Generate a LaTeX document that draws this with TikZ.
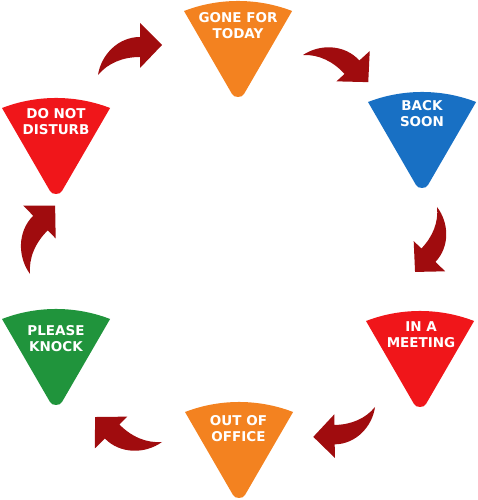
\documentclass[tikz,border=0pt]{standalone}
\usepackage{fontspec}
\setmainfont{DejaVu Sans}
\definecolor{signorange}{RGB}{243,130,32}
\definecolor{signred}{RGB}{240,22,26}
\definecolor{signblue}{RGB}{24,112,196}
\definecolor{signgreen}{RGB}{32,148,60}
\definecolor{arrowred}{RGB}{160,12,14}
\tikzset{
  signtext/.style={text=white, font=\bfseries\fontsize{13.5}{16}\selectfont, align=center, inner sep=0pt, anchor=north},
  curvedarrow/.pic={
    \fill[arrowred] (0,0) .. controls (3,20) and (20,38) .. (42,38) -- (42,52) -- (64,30) -- (42,7) -- (42,18)
      .. controls (25,18) and (10,12) .. (0,0) -- cycle;
  }
}
\newcommand\signshape[3]{%
  \fill[#3] ({#1-54},{#2-10}) arc[start angle=111, end angle=69, radius=150.8]
    -- ({#1+6},{#2-93}) .. controls ({#1+4},{#2-97}) and ({#1-4},{#2-97}) .. ({#1-6},{#2-93}) -- cycle;}
\begin{document}
\begin{tikzpicture}[x=1pt,y=1pt]
\useasboundingbox (0,0) rectangle (478,500);
% signs
\signshape{238}{499}{signorange}
\signshape{56}{402}{signred}
\signshape{422}{408}{signblue}
\signshape{420}{189}{signred}
\signshape{56}{191}{signgreen}
\signshape{239}{98}{signorange}
\node[signtext] (gone) at (238,487.5) {GONE FOR\\TODAY};
\node[signtext] (dnd) at (56,392) {DO NOT\\DISTURB};
\node[signtext] (back) at (422,400) {BACK\\SOON};
\node[signtext] (meet) at (421,178.5) {IN A\\MEETING};
\node[signtext] (knock) at (56,175) {PLEASE\\KNOCK};
\node[signtext] (out) at (238.5,85) {OUT OF\\OFFICE};
% arrows
\pic at (98,425) {curvedarrow};
\pic[rotate=-47.7] at (303,445) {curvedarrow};
\pic[rotate=-133.8, scale=0.97] at (437,293) {curvedarrow};
\pic[rotate=180.7, scale=0.97] at (375,93) {curvedarrow};
\pic[rotate=134.4, scale=1.01] at (162,58) {curvedarrow};
\pic[rotate=44.7, scale=1.03] at (30,226) {curvedarrow};
\end{tikzpicture}
\end{document}
